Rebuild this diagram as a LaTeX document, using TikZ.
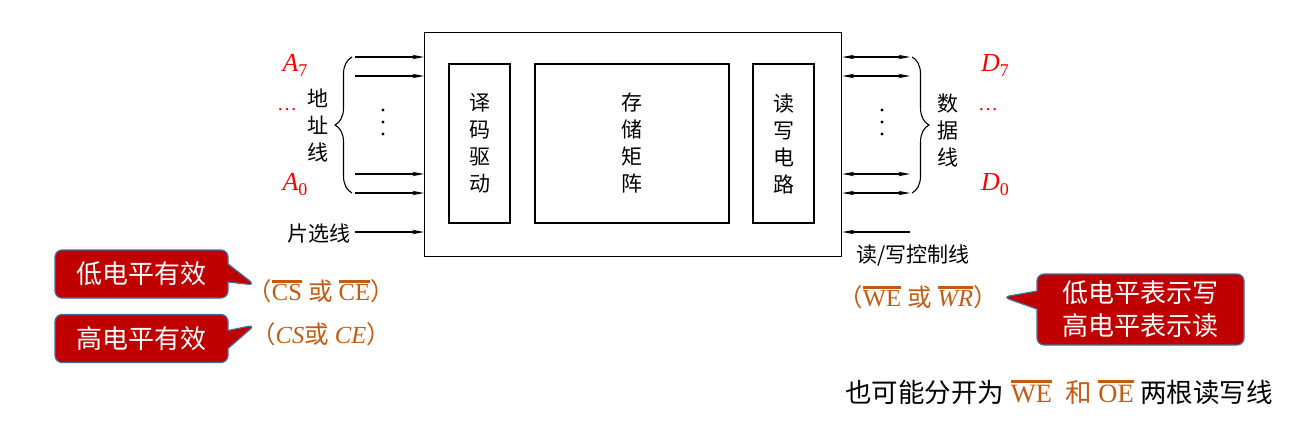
\documentclass[tikz,border=0pt]{standalone}
\usepackage{fontspec}
\setmainfont{Liberation Serif}
\newfontfamily\cjk{Noto Sans CJK SC}
\usetikzlibrary{arrows.meta,decorations.pathreplacing,shapes.callouts}
\definecolor{calloutred}{HTML}{C00000}
\definecolor{calloutedge}{HTML}{41719C}
\definecolor{orng}{HTML}{C55A11}
\newcommand\ovl[1]{\leavevmode\vbox{\hrule height 3pt\kern1.5pt\hbox{#1}}}
\newcommand\sig[2]{\textit{#1}\raisebox{-5pt}{\fontsize{18}{18}\selectfont #2}}
\begin{document}
\begin{tikzpicture}[x=1pt,y=-1pt,
 lbl/.style={font=\cjk\fontsize{21}{27}\selectfont, inner sep=0pt, align=center},
 arr/.style={line width=1.1pt, -{Stealth[length=12pt,width=4.5pt]}},
 darr/.style={line width=1.1pt, {Stealth[length=12pt,width=4.5pt]}-{Stealth[length=12pt,width=4.5pt]}},
 box/.style={draw, line width=1.4pt},
 redlbl/.style={text=red, font=\fontsize{26}{26}\selectfont, inner sep=0pt},
 otext/.style={text=orng, font=\fontsize{24.5}{24.5}\selectfont, inner sep=0pt},
 brc/.style={decorate, decoration={brace, amplitude=17pt}, line width=1.1pt},
 bubble/.style={rectangle callout, rounded corners=7pt, callout pointer width=18pt, fill=calloutred, draw=calloutedge, line width=1.2pt, text=white, font=\cjk\fontsize{26}{33}\selectfont, align=center, inner sep=0pt, minimum width=173pt, minimum height=48pt}]
\path[use as bounding box, fill=white] (0,0) rectangle (1308,426);

% chip and inner blocks
\node[box, minimum width=417pt, minimum height=224pt, anchor=north west, inner sep=0pt] (chip) at (424,32) {};
\node[box, lbl, minimum width=61pt, minimum height=159pt] (dec) at (479.5,143.5) {译\\码\\驱\\动};
\node[box, lbl, minimum width=194pt, minimum height=159pt] (mat) at (632,143.5) {存\\储\\矩\\阵};
\node[box, lbl, minimum width=61pt, minimum height=159pt] (rwc) at (783.5,143.5) {读\\写\\电\\路};

% address lines
\coordinate (a1) at (355,57);
\coordinate (a2) at (355,76);
\coordinate (a3) at (355,174);
\coordinate (a4) at (355,193);
\coordinate (cs) at (355,232);
\foreach \c in {a1,a2,a3,a4,cs} \draw[arr] (\c) -- (\c -| chip.west);
\foreach \yy in {110,122,134} \fill (383,\yy) circle (1.6pt);
\draw[brc] (352,193) -- (352,57);
\node[lbl] (addr) at (318,125) {地\\址\\线};
\node[redlbl] (A7) at (295,65) {\sig{A}{7}};
\node[redlbl, font=\fontsize{20}{20}\selectfont] (Ad) at (287,110) {…};
\node[redlbl] (A0) at (295,185) {\sig{A}{0}};
\node[lbl, anchor=east] (csl) at (351,234) {片选线};

% data lines
\coordinate (d1) at (910,57);
\coordinate (d2) at (910,76);
\coordinate (d3) at (910,174);
\coordinate (d4) at (910,193);
\coordinate (wr) at (910,232);
\foreach \c in {d1,d2,d3,d4} \draw[darr] (\c -| chip.east) -- (\c);
\draw[arr] (wr) -- (wr -| chip.east);
\foreach \yy in {110,122,134} \fill (882,\yy) circle (1.6pt);
\draw[brc] (912,57) -- (912,193);
\node[lbl] (data) at (948,130) {数\\据\\线};
\node[redlbl] (D7) at (995,65) {\sig{D}{7}};
\node[redlbl, font=\fontsize{20}{20}\selectfont] (Dd) at (988,110) {…};
\node[redlbl] (D0) at (995,185) {\sig{D}{0}};
\node[lbl] (wrl) at (913,256) {读/写控制线};

% callouts
\node[bubble, callout absolute pointer={(255,285)}] (low) at (141.5,274) {低电平有效};
\node[bubble, callout absolute pointer={(255,325)}] (high) at (141.5,338.5) {高电平有效};
\node[bubble, minimum width=207pt, minimum height=71pt, callout absolute pointer={(1003,297)}] (rwb) at (1140.5,309.5) {低电平表示写\\高电平表示读};

\node[otext] (cslow) at (321,291) {{\cjk（}\ovl{CS} {\cjk 或} \ovl{CE}{\cjk ）}};
\node[otext] (cshigh) at (321,334) {{\cjk（}\textit{CS}{\cjk 或} \textit{CE}{\cjk ）}};
\node[otext] (wrn) at (918,297) {{\cjk（}\ovl{WE} {\cjk 或} \ovl{\textit{WR}}{\cjk ）}};

\node[anchor=west, inner sep=0pt, font=\fontsize{26.5}{27}\selectfont] (note) at (845,392) {{\cjk 也可能分开为} \textcolor{orng}{\ovl{WE}\ \ {\cjk 和} \ovl{OE}} {\cjk 两根读写线}};
\end{tikzpicture}
\end{document}
